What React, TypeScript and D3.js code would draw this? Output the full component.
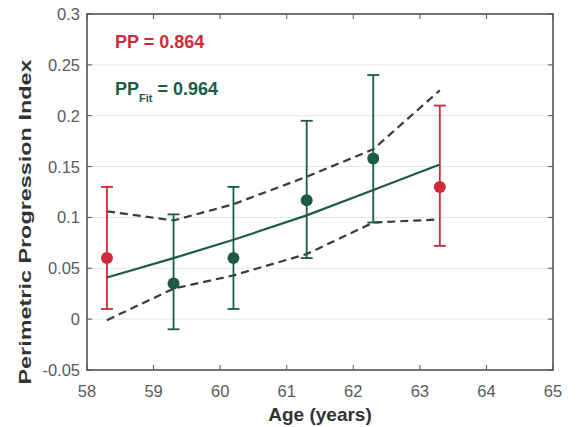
import React from "react";
import * as d3 from "d3";

const ages = [58.3, 59.3, 60.2, 61.3, 62.3, 63.3];
const means = [0.06, 0.035, 0.06, 0.117, 0.158, 0.13];
const errLow = [0.01, -0.01, 0.01, 0.06, 0.095, 0.072];
const errHigh = [0.13, 0.103, 0.13, 0.195, 0.24, 0.21];
const included = [false, true, true, true, true, false];
const fitMid = [0.041, 0.06, 0.078, 0.102, 0.127, 0.152];
const fitUpper = [0.106, 0.097, 0.113, 0.14, 0.167, 0.225];
const fitLower = [-0.001, 0.03, 0.043, 0.064, 0.095, 0.098];
const xTicks = [58, 59, 60, 61, 62, 63, 64, 65];
const yTicks = [-0.05, 0, 0.05, 0.1, 0.15, 0.2, 0.25, 0.3];

const RED = "#cc2b3b";
const GREEN = "#1d5b45";

export default function App() {
  const W = 577, H = 427;
  const left = 87, right = 553, top = 14, bottom = 370;
  const x = d3.scaleLinear().domain([58, 65]).range([left, right]);
  const y = d3.scaleLinear().domain([-0.05, 0.3]).range([bottom, top]);
  const line = d3.line<number>().x((_, i) => x(ages[i])).y((d) => y(d));
  const font = "Arial, 'Liberation Sans', sans-serif";
  return (
    <svg width={W} height={H} style={{ position: "absolute", left: 0, top: 0, background: "#fff" }}>
      {yTicks.map((t) => (
        <line key={"g" + t} x1={left} x2={right} y1={y(t)} y2={y(t)} stroke="#e6e6e6" strokeWidth={1} />
      ))}
      <rect x={left} y={top} width={right - left} height={bottom - top} fill="none" stroke="#4a4a4a" strokeWidth={1.5} />
      {xTicks.map((t) => (
        <g key={"x" + t}>
          <line x1={x(t)} x2={x(t)} y1={bottom} y2={bottom - 5} stroke="#555" />
          <line x1={x(t)} x2={x(t)} y1={top} y2={top + 5} stroke="#555" />
          <text x={x(t)} y={397} textAnchor="middle" fontFamily={font} fontSize={16.5} fill="#5a5a5a">{t}</text>
        </g>
      ))}
      {yTicks.map((t) => (
        <g key={"y" + t}>
          <line x1={left} x2={left + 5} y1={y(t)} y2={y(t)} stroke="#555" />
          <line x1={right} x2={right - 5} y1={y(t)} y2={y(t)} stroke="#555" />
          <text x={left - 7} y={y(t) + 6} textAnchor="end" fontFamily={font} fontSize={16.5} fill="#5a5a5a">{t}</text>
        </g>
      ))}
      <path d={line(fitUpper) || ""} fill="none" stroke="#3a3a3a" strokeWidth={2.2} strokeDasharray="8,5" />
      <path d={line(fitLower) || ""} fill="none" stroke="#3a3a3a" strokeWidth={2.2} strokeDasharray="8,5" />
      <path d={line(fitMid) || ""} fill="none" stroke={GREEN} strokeWidth={2.2} />
      {ages.map((a, i) => {
        const c = included[i] ? GREEN : RED;
        return (
          <g key={"p" + i}>
            <line x1={x(a)} x2={x(a)} y1={y(errLow[i])} y2={y(errHigh[i])} stroke={c} strokeWidth={1.8} />
            <line x1={x(a) - 6} x2={x(a) + 6} y1={y(errLow[i])} y2={y(errLow[i])} stroke={c} strokeWidth={1.8} />
            <line x1={x(a) - 6} x2={x(a) + 6} y1={y(errHigh[i])} y2={y(errHigh[i])} stroke={c} strokeWidth={1.8} />
            <circle cx={x(a)} cy={y(means[i])} r={6} fill={c} />
          </g>
        );
      })}
      <text x={115} y={48} fontFamily={font} fontSize={18} fontWeight="bold" fill={RED}>PP = 0.864</text>
      <text x={115} y={95} fontFamily={font} fontSize={18} fontWeight="bold" fill={GREEN}>
        PP<tspan fontSize={11} dy={7}>Fit</tspan><tspan dy={-7}> = 0.964</tspan>
      </text>
      <text x={320} y={421} textAnchor="middle" fontFamily={font} fontSize={19} fontWeight="bold" fill="#333">Age (years)</text>
      <text transform={`translate(31,222) rotate(-90)`} textAnchor="middle" fontFamily={font} fontSize={17} fontWeight="bold" fill="#333" textLength={325} lengthAdjust="spacingAndGlyphs">Perimetric Progression Index</text>
    </svg>
  );
}
